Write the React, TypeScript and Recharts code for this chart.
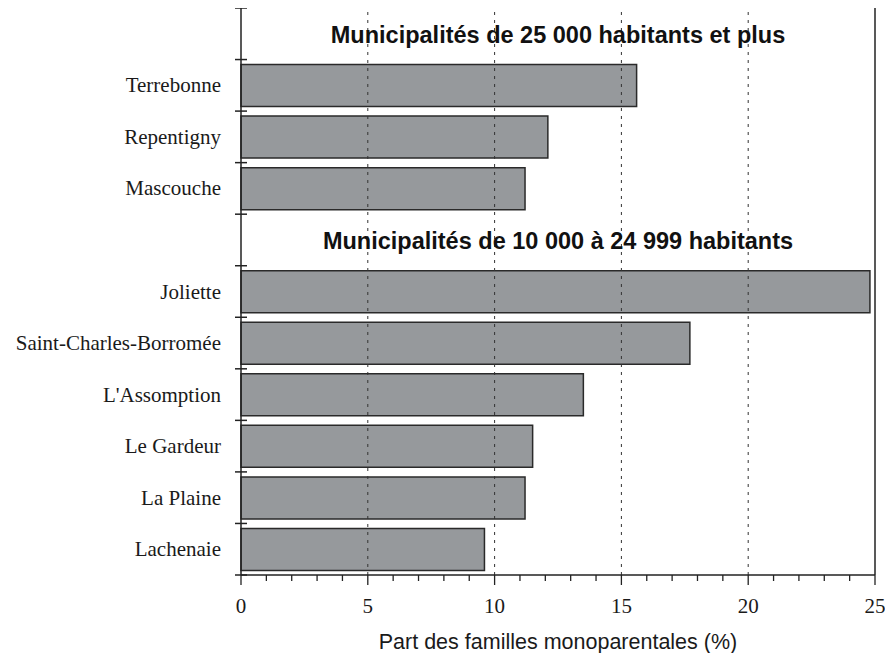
import React from 'react';
import { BarChart, Bar, XAxis, YAxis, ReferenceLine } from 'recharts';

const groupHeaders = [
  'Municipalités de 25 000 habitants et plus',
  'Municipalités de 10 000 à 24 999 habitants',
];
const group1Names = ['Terrebonne', 'Repentigny', 'Mascouche'];
const group1Values = [15.6, 12.1, 11.2];
const group2Names = ['Joliette', 'Saint-Charles-Borromée', "L'Assomption", 'Le Gardeur', 'La Plaine', 'Lachenaie'];
const group2Values = [24.8, 17.7, 13.5, 11.5, 11.2, 9.6];
const xTicks = [0, 1, 2, 3, 4, 5, 6, 7, 8, 9, 10, 11, 12, 13, 14, 15, 16, 17, 18, 19, 20, 21, 22, 23, 24, 25];
const xLabeled = [0, 5, 10, 15, 20, 25];
const gridValues = [5, 10, 15, 20];
const xTitle = 'Part des familles monoparentales (%)';

type Row = { id: string; name: string; value: number | null; header: boolean };
const data: Row[] = [
  { id: 'h0', name: groupHeaders[0], value: null, header: true },
  ...group1Names.map((n, i) => ({ id: 'a' + i, name: n, value: group1Values[i], header: false })),
  { id: 'h1', name: groupHeaders[1], value: null, header: true },
  ...group2Names.map((n, i) => ({ id: 'b' + i, name: n, value: group2Values[i], header: false })),
];

const W = 877;
const H = 645;
const MARGIN = { top: 0, right: 10, bottom: 0, left: 0 };
const YW = 233;
const XH = 78;
const PLOT_W = W - MARGIN.left - MARGIN.right - YW;

const AXIS = '#222';

const YTick = (props: any) => {
  const { x, y, payload, index } = props;
  const row = data.find((d) => d.id === payload.value);
  const off = payload.offset ?? 25.77;
  const isLast = index === data.length - 1;
  return (
    <g>
      <line x1={x - 6} x2={x + 6} y1={y - off} y2={y - off} stroke={AXIS} strokeWidth={1.5} />
      {isLast && <line x1={x - 6} x2={x + 6} y1={y + off} y2={y + off} stroke={AXIS} strokeWidth={1.5} />}
      {row && row.header ? (
        <text
          x={x + PLOT_W / 2}
          y={y + 9}
          textAnchor="middle"
          fontFamily="'Liberation Sans', Arial, sans-serif"
          fontWeight="bold"
          fontSize={23.5}
          fill="#111"
        >
          {row.name}
        </text>
      ) : (
        <text
          x={x - 20}
          y={y + 7}
          textAnchor="end"
          fontFamily="'Liberation Serif', 'Times New Roman', serif"
          fontSize={21}
          fill="#1a1a1a"
        >
          {row ? row.name : ''}
        </text>
      )}
    </g>
  );
};

const XTick = (props: any) => {
  const { x, y, payload } = props;
  const major = xLabeled.includes(payload.value);
  return (
    <g>
      <line x1={x} x2={x} y1={y} y2={y + (major ? 10 : 6)} stroke={AXIS} strokeWidth={1.3} />
      {major && (
        <text
          x={x}
          y={y + 38}
          textAnchor="middle"
          fontFamily="'Liberation Serif', 'Times New Roman', serif"
          fontSize={21}
          fill="#1a1a1a"
        >
          {payload.value}
        </text>
      )}
    </g>
  );
};

const XTitle = (props: any) => {
  const vb = props.viewBox || {};
  return (
    <text
      x={vb.x + vb.width / 2}
      y={vb.y + 74}
      textAnchor="middle"
      fontFamily="'Liberation Sans', Arial, sans-serif"
      fontSize={21.5}
      fill="#1a1a1a"
    >
      {xTitle}
    </text>
  );
};

export default function App() {
  return (
    <BarChart width={W} height={H} data={data} layout="vertical" margin={MARGIN} barCategoryGap={5}>
      <XAxis
        type="number"
        domain={[0, 25]}
        ticks={xTicks}
        interval={0}
        allowDecimals={false}
        tickLine={false}
        tickSize={0}
        tickMargin={0}
        height={XH}
        axisLine={{ stroke: AXIS, strokeWidth: 1.5 }}
        tick={<XTick />}
        label={<XTitle />}
      />
      <YAxis
        type="category"
        dataKey="id"
        width={YW}
        interval={0}
        tickLine={false}
        tickSize={0}
        tickMargin={0}
        axisLine={{ stroke: AXIS, strokeWidth: 1.5 }}
        tick={<YTick />}
      />
      {gridValues.map((v) => (
        <ReferenceLine key={v} x={v} stroke="#333" strokeWidth={1} strokeDasharray="3 5" />
      ))}
      <ReferenceLine x={25} stroke={AXIS} strokeWidth={1.5} />
      <Bar dataKey="value" fill="#96999c" stroke="#2a2a2a" strokeWidth={1.5} isAnimationActive={false} />
    </BarChart>
  );
}
